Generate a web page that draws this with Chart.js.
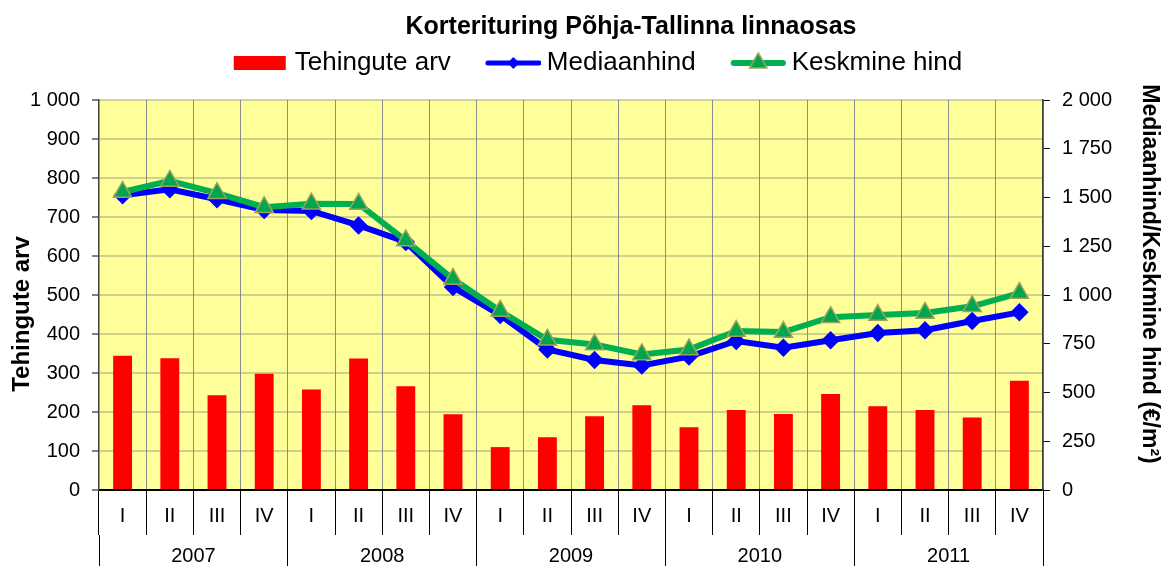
<!DOCTYPE html>
<html lang="et">
<head>
<meta charset="utf-8">
<title>Korterituring Põhja-Tallinna linnaosas</title>
<script src="https://cdn.jsdelivr.net/npm/chart.js@4.4.1/dist/chart.umd.min.js"></script>
<style>
  html, body { margin: 0; padding: 0; background: #fff; }
</style>
</head>
<body>
<canvas id="turg" width="1164" height="566"></canvas>
<script>
// kvartalid ja aastad x-teljel
const years = ['2007', '2008', '2009', '2010', '2011']
const quarterNames = ['I', 'II', 'III', 'IV']

// tehingute arv kvartalis
const tehingud = [344, 338, 243, 298, 258, 337, 266, 194, 110, 135,
                  189, 217, 161, 205, 195, 246, 215, 205, 186, 280]
// mediaanhind €/m²
const mediaan = [1512, 1542, 1491, 1436, 1431, 1357, 1272, 1041, 897, 721,
                 667, 639, 684, 764, 730, 768, 805, 819, 867, 911]
// keskmine hind €/m²
const keskmine = [1528, 1585, 1522, 1450, 1468, 1467, 1279, 1082, 918, 770,
                  746, 695, 720, 815, 810, 886, 897, 908, 942, 1010]

// teljed
const arvMax = 1000, arvStep = 100
const hindMax = 2000, hindStep = 250

const labels = years.flatMap(() => quarterNames)
const fmt = (v) => String(v).replace(/\B(?=(\d{3})+(?!\d))/g, ' ')

const FONT = '"Liberation Sans", Arial, sans-serif'
Chart.defaults.font.family = FONT
Chart.defaults.color = '#000'

// legendi ikoonid: 74px lai pilt, sisu algab 19px pealt
const legendIcon = (draw) => {
  const c = document.createElement('canvas')
  c.width = 74
  c.height = 24
  draw(c.getContext('2d'))
  return c
}
const iconBar = legendIcon(g => {
  g.fillStyle = '#ff0000'
  g.fillRect(19, 5, 52, 14)
})
const iconMedian = legendIcon(g => {
  g.strokeStyle = '#0000ff'
  g.lineWidth = 5
  g.lineCap = 'round'
  g.beginPath(); g.moveTo(21, 12); g.lineTo(72, 12); g.stroke()
  g.fillStyle = '#0000ff'
  g.beginPath()
  g.moveTo(46.5, 6); g.lineTo(52.5, 12); g.lineTo(46.5, 18); g.lineTo(40.5, 12)
  g.closePath(); g.fill()
})
const iconAverage = legendIcon(g => {
  g.strokeStyle = '#00b050'
  g.lineWidth = 6
  g.lineCap = 'round'
  g.beginPath(); g.moveTo(22, 12); g.lineTo(71, 12); g.stroke()
  g.fillStyle = '#00a550'
  g.strokeStyle = '#a0a05a'
  g.lineWidth = 1.5
  g.beginPath()
  g.moveTo(46.5, 2); g.lineTo(55.2, 17); g.lineTo(37.8, 17)
  g.closePath(); g.fill(); g.stroke()
})

// legendi ja joonisala vahele lisaruum
const legendGap = {
  id: 'legendGap',
  beforeLayout(chart) {
    const lg = chart.legend
    if (lg && !lg._baseFit) {
      lg._baseFit = lg.fit
      lg.fit = function () {
        this._baseFit()
        this.height += 14
      }
    }
  }
}

// kollane joonisala taust
const plotBackground = {
  id: 'plotBackground',
  beforeDraw(chart) {
    const { ctx, chartArea: a } = chart
    ctx.save()
    ctx.fillStyle = '#ffff99'
    ctx.fillRect(a.left, a.top, a.right - a.left, a.bottom - a.top)
    ctx.restore()
  }
}

// pealkiri ja telgede nimed
const titles = {
  id: 'titles',
  afterDraw(chart) {
    const { ctx, chartArea: a } = chart
    const midY = (a.top + a.bottom) / 2
    ctx.save()
    ctx.fillStyle = '#000'
    ctx.textAlign = 'center'
    ctx.textBaseline = 'middle'

    ctx.font = 'bold 25px ' + FONT
    ctx.fillText('Korterituring Põhja-Tallinna linnaosas', (a.left + a.right) / 2 + 60, 27)

    ctx.save()
    ctx.font = 'bold 24px ' + FONT
    ctx.translate(22.5, midY + 19)
    ctx.rotate(-Math.PI / 2)
    ctx.fillText('Tehingute arv', 0, 0)
    ctx.restore()

    ctx.save()
    ctx.font = 'bold 23px ' + FONT
    ctx.translate(1149, midY - 21)
    ctx.rotate(Math.PI / 2)
    ctx.fillText('Mediaanhind/Keskmine hind (€/m²)', 0, 0)
    ctx.restore()

    ctx.restore()
  }
}

new Chart(document.getElementById('turg'), {
  type: 'bar',
  data: {
    labels: labels,
    datasets: [
      {
        type: 'bar',
        label: 'Tehingute arv',
        data: tehingud,
        xAxisID: 'x',
        yAxisID: 'y',
        backgroundColor: '#ff0000',
        barPercentage: 0.4,
        categoryPercentage: 1,
        order: 3
      },
      {
        type: 'line',
        label: 'Mediaanhind',
        data: mediaan,
        xAxisID: 'x',
        yAxisID: 'y1',
        borderColor: '#0000ff',
        borderWidth: 6,
        tension: 0,
        pointStyle: 'rectRot',
        pointRadius: 5,
        pointBackgroundColor: '#0000ff',
        pointBorderColor: '#0000ff',
        order: 2
      },
      {
        type: 'line',
        label: 'Keskmine hind',
        data: keskmine,
        xAxisID: 'x',
        yAxisID: 'y1',
        borderColor: '#00b050',
        borderWidth: 6,
        tension: 0,
        pointStyle: 'triangle',
        pointRadius: 10.5,
        pointBackgroundColor: '#00a550',
        pointBorderColor: '#a0a05a',
        pointBorderWidth: 1.5,
        order: 1
      }
    ]
  },
  options: {
    responsive: false,
    animation: false,
    layout: { padding: { left: 20, top: 27, right: 0, bottom: 0 } },
    plugins: {
      title: { display: false },
      tooltip: { enabled: false },
      legend: {
        position: 'top',
        onClick: null,
        labels: {
          usePointStyle: true,
          pointStyleWidth: 60,
          padding: 23,
          font: { size: 26 },
          color: '#000',
          generateLabels: () => [
            { text: 'Tehingute arv', pointStyle: iconBar, lineWidth: 0, hidden: false, datasetIndex: 0 },
            { text: 'Mediaanhind', pointStyle: iconMedian, lineWidth: 0, hidden: false, datasetIndex: 1 },
            { text: 'Keskmine hind', pointStyle: iconAverage, lineWidth: 0, hidden: false, datasetIndex: 2 }
          ]
        }
      }
    },
    scales: {
      x: {
        position: 'bottom',
        weight: 0,
        offset: true,
        afterFit: (s) => { s.height = 45 },
        ticks: { padding: -31, autoSkip: false, maxRotation: 0, font: { size: 20 }, color: '#000' },
        grid: { offset: true, color: '#8c8c8c', lineWidth: 1, tickLength: 45, tickColor: '#000' },
        border: { color: '#000', width: 2 }
      },
      x2: {
        type: 'category',
        labels: years,
        position: 'bottom',
        weight: 1,
        offset: true,
        afterFit: (s) => { s.height = 31 },
        ticks: { padding: -22, autoSkip: false, maxRotation: 0, font: { size: 20 }, color: '#000' },
        grid: { offset: true, drawOnChartArea: false, tickLength: 31, tickColor: '#000' },
        border: { display: false }
      },
      y: {
        position: 'left',
        min: 0,
        max: arvMax,
        afterFit: (s) => { s.width = 79 },
        ticks: { stepSize: arvStep, padding: 12, font: { size: 20 }, color: '#000', callback: (v) => fmt(v) },
        grid: { color: 'rgba(120,120,120,0.35)', lineWidth: 2, tickLength: 7, tickColor: '#000', tickWidth: 1 },
        border: { color: '#404040', width: 1.5 }
      },
      y1: {
        position: 'right',
        min: 0,
        max: hindMax,
        afterFit: (s) => { s.width = 121 },
        ticks: { stepSize: hindStep, padding: 12, font: { size: 20 }, color: '#000', callback: (v) => fmt(v) },
        grid: { drawOnChartArea: false, tickLength: 7, tickColor: '#000', tickWidth: 1 },
        border: { color: '#404040', width: 1.5 }
      }
    }
  },
  plugins: [legendGap, plotBackground, titles]
})
</script>
</body>
</html>
